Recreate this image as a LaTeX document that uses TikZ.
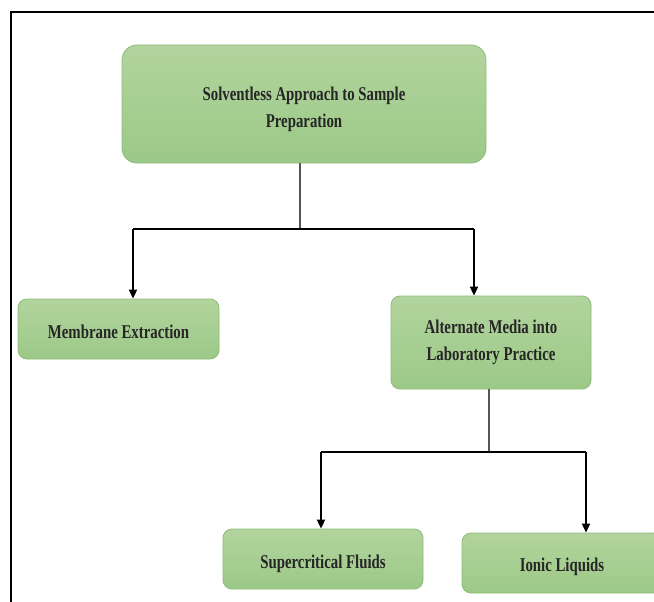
\documentclass[tikz,border=0pt]{standalone}
\usepackage{fontspec}
\newfontfamily\boxfont[FakeStretch=0.76]{Liberation Serif}
\usetikzlibrary{arrows.meta}
\definecolor{boxtop}{HTML}{B2D49E}
\definecolor{boxbot}{HTML}{9CC987}
\definecolor{boxedge}{HTML}{8DBB78}
\definecolor{stemgray}{HTML}{555555}
\newcommand{\lowered}[2]{\raisebox{-#1}[\height][\depth]{#2}}
\tikzset{
  greenbox/.style={draw=boxedge, line width=0.8pt, top color=boxtop, bottom color=boxbot,
    rounded corners=9pt, inner sep=0pt, align=center,
    font=\boxfont\bfseries\fontsize{19.5}{27}\selectfont, text=black!85},
  stem/.style={draw=stemgray, line width=1.2pt},
  conn/.style={draw=black, line width=1.8pt},
  arr/.style={conn, -{Triangle[length=9pt,width=8pt]}},
  frame/.style={draw=black, line width=2.2pt}
}
\begin{document}
\begin{tikzpicture}[x=1pt,y=-1pt]
\clip (0,0) rectangle (654,602);
\fill[white] (0,0) rectangle (654,602);
\draw[frame] (11,602) -- (11,12) -- (660,12);
% nodes
\node[greenbox, rounded corners=15pt, minimum width=364pt, minimum height=118pt] (top) at (304,104)
  {\lowered{5pt}{\begin{tabular}{@{}c@{}}Solventless Approach to Sample\\Preparation\end{tabular}}};
\node[greenbox, minimum width=201pt, minimum height=60pt] (mem) at (118.5,329) {\lowered{3pt}{Membrane Extraction}};
\node[greenbox, minimum width=200pt, minimum height=93pt] (alt) at (491,342.5) {Alternate Media into\\Laboratory Practice};
\node[greenbox, minimum width=200pt, minimum height=60pt] (sup) at (323,559) {\lowered{5pt}{Supercritical Fluids}};
\node[greenbox, minimum width=200pt, minimum height=60pt] (ion) at (562,563) {\lowered{4pt}{Ionic Liquids}};
% upper connectors
\coordinate (j1) at (300,229);
\coordinate (l1) at (133,229);
\coordinate (r1) at (474,229);
\draw[stem] (top.south -| j1) -- (j1);
\draw[conn] (l1) -- (r1);
\draw[arr] (l1) -- (l1 |- mem.north);
\draw[arr] (r1) -- (r1 |- alt.north);
% lower connectors
\coordinate (j2) at (489,452);
\coordinate (l2) at (321,452);
\coordinate (r2) at (586,452);
\draw[stem] (alt.south -| j2) -- (j2);
\draw[conn] (l2) -- (r2);
\draw[arr] (l2) -- (l2 |- sup.north);
\draw[arr] (r2) -- (r2 |- ion.north);
\end{tikzpicture}
\end{document}
